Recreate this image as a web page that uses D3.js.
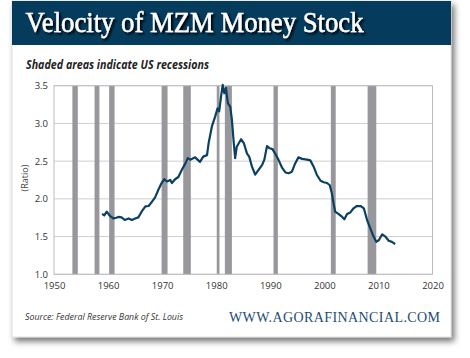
<!DOCTYPE html>
<html><head><meta charset="utf-8">
<script src="https://cdn.jsdelivr.net/npm/d3@7"></script>
<style>html,body{margin:0;padding:0;background:#fff;}svg{display:block;}</style>
</head><body>
<script>
const years = [1958.9,1959.3,1959.75,1960.4,1961.0,1961.5,1961.9,1962.5,1963.1,1963.8,1964.4,1965.0,1965.6,1966.2,1966.9,1967.5,1968.1,1968.7,1969.3,1969.9,1970.4,1970.9,1971.5,1971.8,1972.4,1973.0,1973.6,1974.3,1974.75,1975.2,1976.1,1977.0,1977.6,1978.3,1978.6,1979.2,1979.8,1980.25,1980.55,1980.9,1981.2,1981.5,1981.8,1982.15,1982.6,1982.9,1983.2,1983.5,1983.8,1984.6,1985.1,1985.7,1986.1,1986.6,1987.2,1987.8,1988.5,1988.9,1989.4,1989.9,1990.4,1990.9,1991.5,1992.2,1992.8,1993.4,1994.0,1994.6,1995.2,1995.9,1996.8,1997.4,1998.0,1998.6,1999.3,1999.9,2000.5,2001.0,2001.4,2001.7,2002.0,2002.6,2003.3,2003.7,2004.2,2004.8,2005.4,2006.0,2006.7,2007.3,2007.9,2008.5,2009.1,2009.6,2010.1,2010.7,2011.3,2011.9,2012.5,2013.1];
const velocity = [1.80,1.78,1.83,1.77,1.74,1.75,1.76,1.755,1.72,1.74,1.72,1.74,1.755,1.83,1.90,1.905,1.96,2.02,2.12,2.21,2.26,2.23,2.25,2.21,2.26,2.29,2.38,2.47,2.54,2.52,2.55,2.49,2.56,2.58,2.74,2.96,3.09,3.20,3.16,3.36,3.51,3.40,3.47,3.27,3.22,3.05,2.78,2.54,2.69,2.79,2.74,2.60,2.56,2.43,2.32,2.38,2.45,2.52,2.70,2.67,2.66,2.60,2.52,2.41,2.35,2.34,2.36,2.47,2.55,2.53,2.52,2.51,2.43,2.32,2.24,2.22,2.21,2.18,2.07,1.94,1.83,1.80,1.76,1.73,1.80,1.82,1.875,1.905,1.905,1.875,1.72,1.61,1.50,1.43,1.455,1.53,1.50,1.445,1.43,1.40];
const recessionStart = [1953.4,1957.5,1960.2,1969.9,1973.9,1980.1,1981.6,1990.6,2001.2,2008.0];
const recessionEnd   = [1954.4,1958.4,1961.2,1971.0,1975.3,1980.6,1982.9,1991.4,2002.1,2009.6];
const xTicks = [1950,1960,1970,1980,1990,2000,2010,2020];
const yTicks = [1.0,1.5,2.0,2.5,3.0,3.5];

const W = 470, H = 358;
const svg = d3.select("body").append("svg").attr("width", W).attr("height", H);
const defs = svg.append("defs");
const f = defs.append("filter").attr("id","shadow").attr("x","-10%").attr("y","-10%").attr("width","130%").attr("height","130%");
f.append("feDropShadow").attr("dx",3).attr("dy",4).attr("stdDeviation",3).attr("flood-color","#000").attr("flood-opacity",0.55);
const tf = defs.append("filter").attr("id","tshadow").attr("x","-5%").attr("y","-20%").attr("width","115%").attr("height","150%");
tf.append("feDropShadow").attr("dx",2).attr("dy",2).attr("stdDeviation",0.8).attr("flood-color","#000").attr("flood-opacity",0.95);

// card
svg.append("rect").attr("x",12).attr("y",1).attr("width",439).attr("height",336)
  .attr("fill","#fff").attr("stroke","#d8d8d8").attr("stroke-width",0.8).attr("filter","url(#shadow)");
svg.append("rect").attr("x",12).attr("y",1).attr("width",439).attr("height",44).attr("fill","#053b5c");

const title = "Velocity of MZM Money Stock";
svg.append("text").attr("x",25.5).attr("y",32).text(title)
  .attr("font-family","Liberation Serif, serif").attr("font-size",29).attr("fill","#fff")
  .attr("stroke","#fff").attr("stroke-width",0.45).attr("filter","url(#tshadow)")
  .attr("textLength",338).attr("lengthAdjust","spacingAndGlyphs");

svg.append("text").attr("x",26).attr("y",69).text("Shaded areas indicate US recessions")
  .attr("font-family","Open Sans, sans-serif").attr("font-weight","bold").attr("font-style","italic")
  .attr("font-size",11.5).attr("fill","#222").attr("textLength",183).attr("lengthAdjust","spacingAndGlyphs");

const x = d3.scaleLinear().domain([1950,2020]).range([54,432.5]);
const y = d3.scaleLinear().domain([1,3.5]).range([274.3,85.7]);

// gridlines
svg.append("g").selectAll("line").data(yTicks).join("line")
  .attr("x1",x(1950)).attr("x2",x(2020)).attr("y1",d=>y(d)).attr("y2",d=>y(d))
  .attr("stroke","#cfcfcf").attr("stroke-width",1);

// recessions
svg.append("g").selectAll("rect").data(recessionStart).join("rect")
  .attr("x",(d)=>x(d)).attr("width",(d,i)=>x(recessionEnd[i])-x(d))
  .attr("y",y(3.5)).attr("height",y(1)-y(3.5)).attr("fill","#98989c");

// frame
svg.append("rect").attr("x",x(1950)).attr("y",y(3.5)).attr("width",x(2020)-x(1950)).attr("height",y(1)-y(3.5))
  .attr("fill","none").attr("stroke","#bdbdbd").attr("stroke-width",1);

// line
const line = d3.line().x((d,i)=>x(years[i])).y(d=>y(d)).curve(d3.curveLinear);
svg.append("path").datum(velocity).attr("d",line).attr("fill","none")
  .attr("stroke","#0b4062").attr("stroke-width",2.2).attr("stroke-linejoin","round");

// axes
const xAxis = d3.axisBottom(x).tickValues(xTicks).tickFormat(d3.format("d")).tickSize(0).tickPadding(8);
const gx = svg.append("g").attr("transform",`translate(0,${y(1)})`).call(xAxis);
gx.select(".domain").remove();
gx.selectAll("text").attr("font-family","Open Sans, sans-serif").attr("font-size",9.5).attr("fill","#333");

const yAxis = d3.axisLeft(y).tickValues(yTicks).tickFormat(d3.format(".1f")).tickSize(0).tickPadding(6);
const gy = svg.append("g").attr("transform",`translate(${x(1950)},0)`).call(yAxis);
gy.select(".domain").remove();
gy.selectAll("text").attr("font-family","Open Sans, sans-serif").attr("font-size",9.5).attr("fill","#333");

svg.append("text").attr("transform",`translate(28,178) rotate(-90)`).attr("text-anchor","middle")
  .text("(Ratio)").attr("font-family","Open Sans, sans-serif").attr("font-size",9).attr("fill","#444");

svg.append("text").attr("x",25).attr("y",320).text("Source: Federal Reserve Bank of St. Louis")
  .attr("font-family","Open Sans, sans-serif").attr("font-style","italic").attr("font-size",8.5).attr("fill","#333")
  .attr("textLength",158).attr("lengthAdjust","spacingAndGlyphs");

svg.append("text").attr("x",229).attr("y",322).text("WWW.AGORAFINANCIAL.COM")
  .attr("font-family","Liberation Serif, serif").attr("font-size",14).attr("fill","#1d4d72")
  .attr("textLength",211).attr("lengthAdjust","spacing");
</script>
</body></html>
